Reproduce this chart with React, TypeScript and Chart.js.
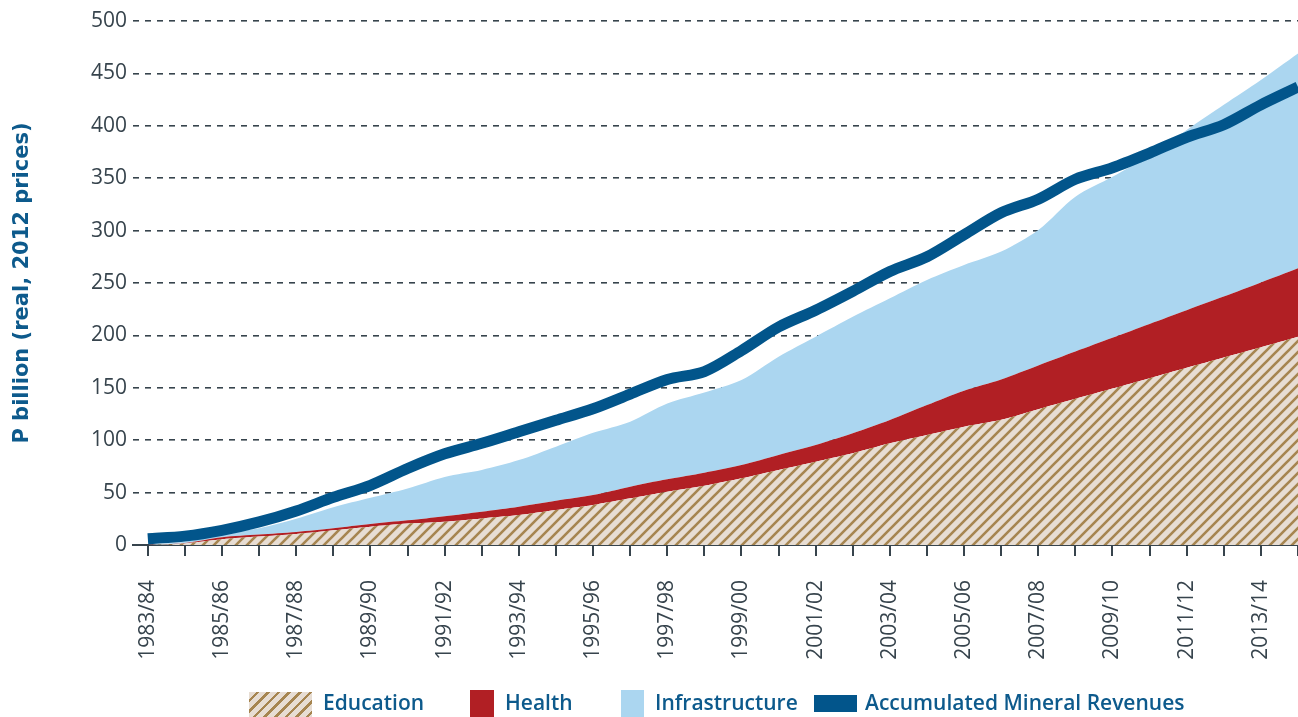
import React, { useEffect, useRef } from 'react';
import { Chart, registerables } from 'chart.js';

Chart.register(...registerables);

const years = [
  '1983/84', '1984/85', '1985/86', '1986/87', '1987/88', '1988/89', '1989/90', '1990/91',
  '1991/92', '1992/93', '1993/94', '1994/95', '1995/96', '1996/97', '1997/98', '1998/99',
  '1999/00', '2000/01', '2001/02', '2002/03', '2003/04', '2004/05', '2005/06', '2006/07',
  '2007/08', '2008/09', '2009/10', '2010/11', '2011/12', '2012/13', '2013/14', '2014/15',
];

const education = [
  0, 1.5, 5.5, 8, 10.5, 14, 17.5, 20.5, 22.3, 25.4, 28.6, 33.4, 38.2, 44.5, 50.9, 56.5,
  63.6, 71.6, 79.5, 87.5, 97, 105, 112.9, 119.5, 129.6, 139.5, 149.3, 159.2, 169.1, 178.9, 188.7, 198.8,
];

const health = [
  0, 0.5, 2, 2, 2, 2, 2.5, 3, 5.2, 6.4, 8, 8.9, 9.5, 11.2, 11.8, 12.5,
  12.7, 14.3, 15.9, 19.1, 22.3, 28.6, 34.4, 38.5, 41.7, 45.1, 48.4, 51.7, 54.9, 58.1, 61.7, 65.2,
];

const infrastructure = [
  0, 1, 3.5, 6, 12.5, 20, 25, 30.5, 37.5, 39.8, 44.4, 51.5, 59.3, 62, 72.3, 76.5,
  81.1, 93.8, 103.4, 111.2, 116.1, 119.3, 119.9, 122, 129.3, 147.8, 153.7, 161.1, 172, 183, 193.3, 205,
];

const revenues = [
  6, 8.5, 14, 22, 32.5, 45.5, 57, 73, 87, 97, 108, 119, 130, 144, 158, 165.5,
  185.5, 208, 224, 242, 261, 275, 296, 317, 330, 349, 360, 374, 389, 401, 420, 437,
];

const yTicks = { min: 0, max: 500, step: 50 };
const yTitle = 'P billion (real, 2012 prices)';
const legendNames = ['Education', 'Health', 'Infrastructure', 'Accumulated Mineral Revenues'];

const C_EDU_BG = '#e7ddd3';
const C_EDU_STRIPE = '#a68550';
const C_HEALTH = '#b11f24';
const C_INFRA = '#abd6f0';
const C_LINE = '#02558b';
const C_TEXT = '#37444d';
const C_BLUE_TEXT = '#0d5a8c';
const FONT = '"Open Sans", "DejaVu Sans", sans-serif';

export default function App() {
  const ref = useRef<HTMLCanvasElement>(null);

  useEffect(() => {
    const canvas = ref.current!;
    const ctx = canvas.getContext('2d')!;
    const S = 11;
    const tile = document.createElement('canvas');
    tile.width = S;
    tile.height = S;
    const t = tile.getContext('2d')!;
    t.fillStyle = C_EDU_BG;
    t.fillRect(0, 0, S, S);
    t.strokeStyle = C_EDU_STRIPE;
    t.lineWidth = 2.6;
    t.beginPath();
    t.moveTo(-1, S + 1); t.lineTo(S + 1, -1);
    t.moveTo(-S / 2 - 1, S / 2 + 1); t.lineTo(S / 2 + 1, -S / 2 - 1);
    t.moveTo(S / 2 - 1, S * 1.5 + 1); t.lineTo(S * 1.5 + 1, S / 2 - 1);
    t.stroke();
    const hatch = ctx.createPattern(tile, 'repeat')!;

    const pts = (arr: number[]) => arr.map((y, i) => ({ x: i, y }));
    const area = {
      borderWidth: 0,
      borderColor: 'rgba(0,0,0,0)',
      pointRadius: 0,
      stack: 'alloc',
      tension: 0.3,
    };

    const chart = new Chart(canvas, {
      type: 'line',
      data: {
        datasets: [
          {
            label: legendNames[3],
            data: pts(revenues),
            borderColor: C_LINE,
            borderWidth: 11,
            pointRadius: 0,
            fill: false,
            stack: 'rev',
            tension: 0.3,
            borderCapStyle: 'butt',
            borderJoinStyle: 'round',
          },
          { ...area, label: legendNames[0], data: pts(education), backgroundColor: hatch, fill: 'origin' },
          { ...area, label: legendNames[1], data: pts(health), backgroundColor: C_HEALTH, fill: '-1' },
          { ...area, label: legendNames[2], data: pts(infrastructure), backgroundColor: C_INFRA, fill: '-1' },
        ] as any,
      },
      options: {
        animation: false,
        responsive: true,
        maintainAspectRatio: false,
        layout: { padding: { top: 21, left: 0, right: 0, bottom: 0 } },
        plugins: { legend: { display: false }, tooltip: { enabled: false } },
        scales: {
          x: {
            type: 'linear',
            min: -0.4,
            max: years.length - 1,
            afterFit: (s: any) => {
              s.height = 172;
              s.paddingLeft = 0;
              s.paddingRight = 0;
            },
            grid: { drawOnChartArea: false, drawTicks: true, tickLength: 11, color: C_TEXT, lineWidth: 2 },
            border: { display: true, color: C_TEXT, width: 2 },
            ticks: {
              stepSize: 1,
              autoSkip: false,
              includeBounds: false,
              minRotation: 90,
              maxRotation: 90,
              padding: 24,
              color: C_TEXT,
              font: { family: FONT, size: 21 },
              callback: (v: any) => (Number.isInteger(v) && v % 2 === 0 ? years[v] : ''),
            },
          },
          y: {
            stacked: true,
            min: yTicks.min,
            max: yTicks.max,
            afterFit: (s: any) => {
              s.width = 133;
              s.paddingTop = 0;
              s.paddingBottom = 0;
            },
            grid: { color: C_TEXT, lineWidth: 1.6, drawTicks: false },
            border: { display: false, dash: [6, 6] },
            ticks: {
              stepSize: yTicks.step,
              padding: 6,
              color: C_TEXT,
              font: { family: FONT, size: 21 },
            },
            title: {
              display: true,
              text: yTitle,
              color: C_BLUE_TEXT,
              font: { family: '"DejaVu Sans", sans-serif', weight: 'bold', size: 21 },
              padding: { top: 10, bottom: 0 },
            },
          },
        },
      } as any,
    });
    return () => chart.destroy();
  }, []);

  const txt: React.CSSProperties = {
    position: 'absolute',
    top: 692,
    fontFamily: FONT,
    fontWeight: 600,
    fontSize: 21,
    lineHeight: '21px',
    color: C_BLUE_TEXT,
    whiteSpace: 'nowrap',
  };

  return (
    <div style={{ position: 'absolute', left: 0, top: 0, width: 1298, height: 717, background: '#fff', overflow: 'hidden' }}>
      <canvas ref={ref} style={{ position: 'absolute', left: 0, top: 0, width: 1298, height: 717 }} />
      <div
        style={{
          position: 'absolute', left: 249, top: 692, width: 63, height: 25,
          background: `repeating-linear-gradient(135deg, ${C_EDU_BG} 0 5px, ${C_EDU_STRIPE} 5px 7.5px)`,
        }}
      />
      <div style={{ ...txt, left: 323 }}>{legendNames[0]}</div>
      <div style={{ position: 'absolute', left: 470, top: 690, width: 24, height: 27, background: C_HEALTH }} />
      <div style={{ ...txt, left: 505 }}>{legendNames[1]}</div>
      <div style={{ position: 'absolute', left: 621, top: 690, width: 23, height: 27, background: C_INFRA }} />
      <div style={{ ...txt, left: 655 }}>{legendNames[2]}</div>
      <div style={{ position: 'absolute', left: 814, top: 695, width: 43, height: 17, background: C_LINE }} />
      <div style={{ ...txt, left: 865 }}>{legendNames[3]}</div>
    </div>
  );
}
